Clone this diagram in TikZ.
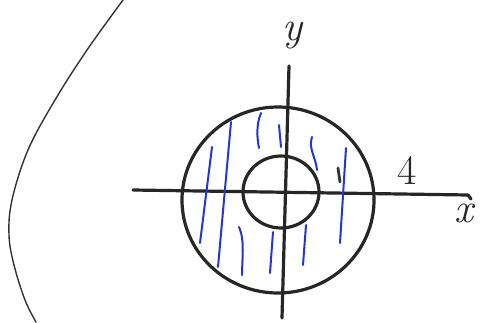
\documentclass[tikz,border=0pt]{standalone}
\usepackage{tikz}
\usetikzlibrary{calc}
\definecolor{pen}{RGB}{35,55,200}
\tikzset{
  ink/.style={draw=black!85,line width=3.2pt,line cap=round,line join=round},
  thinink/.style={draw=black!80,line width=1.4pt,line cap=round},
  hatch/.style={draw=pen,line width=2pt,line cap=round},
  hand/.style={font=\fontsize{42}{42}\selectfont,text=black!85,inner sep=0pt}
}
\begin{document}
\begin{tikzpicture}[x=1pt,y=-1pt]
\useasboundingbox (0,0) rectangle (482,322);
% axes
\coordinate (xl) at (133,190);
\coordinate (xr) at (468,195);
\coordinate (yt) at (289,66);
\coordinate (yb) at (282,318);
\draw[ink] (xl)--(xr) -- ++(3,4);
\draw[ink] (yt)--(yb);
% discs
\draw[ink] (278,200) ellipse (96pt and 93pt);
\draw[ink] (281,192) ellipse (38pt and 36pt);
% shading of the ring
\foreach \a/\b/\c/\d in {212/147/200/243, 231/122/218/267, 279/125/281/147,
  346/148/340/243, 273/232/270/273, 306/225/303/265}{\draw[hatch] (\a,\b)--(\c,\d);}
\draw[hatch] (261,113) .. controls (256,125) and (257,138) .. (259,148);
\draw[hatch] (312,137) .. controls (308,148) and (316,158) .. (317,170);
\draw[hatch] (239,227) .. controls (245,240) and (242,260) .. (242,275);
\draw[line width=2.8pt,black!80,line cap=round] (338,168)--(340,182);
% outer curve
\draw[thinink] plot[smooth,tension=0.6] coordinates {(123,0) (87,50) (55,100) (28,150) (12,200) (9,235) (14,265) (25,300) (36,322)};
% labels
\node[hand] (ylab) at (292,36) {\itshape y};
\node[hand] (four) at (407,170) {4};
\node[hand] (xlab) at (464,213) {\itshape x};
\end{tikzpicture}
\end{document}
